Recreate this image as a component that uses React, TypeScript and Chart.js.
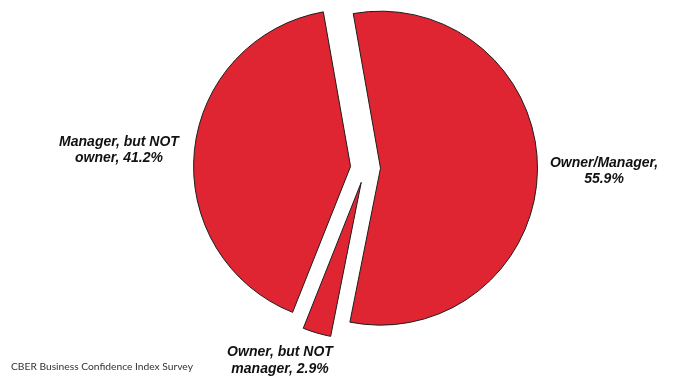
import React, { useEffect, useRef } from 'react';
import { Chart, registerables, ArcElement } from 'chart.js';

Chart.register(...registerables);

// ---- data ----
const categories: string[] = ['Owner/Manager', 'Owner, but NOT manager', 'Manager, but NOT owner'];
const values: number[] = [55.9, 2.9, 41.2];
const footerText = 'CBER Business Confidence Index Survey';

// ---- style / layout ----
const SLICE_COLOR = '#E02532';
const BORDER_COLOR = '#1c1c1c';
const EXPLODE = 15;
// label block centres relative to pie centre
const labelOffsets: [number, number][] = [
  [238.5, 3],
  [-85.5, 192.5],
  [-246.5, -18],
];
const LABEL_FONT = "italic bold 14px 'Liberation Sans', Arial, sans-serif";
const LINE_H = 16.5;

// Explode arcs by translating them without changing their radius
const baseDraw = (ArcElement.prototype as any).draw;
(ArcElement.prototype as any).draw = function (ctx: CanvasRenderingContext2D) {
  const opts = this.options;
  const off = (opts && opts.offset) || 0;
  if (!off) return baseDraw.call(this, ctx);
  const half = (this.startAngle + this.endAngle) / 2;
  ctx.save();
  ctx.translate(Math.cos(half) * off, Math.sin(half) * off);
  this.options = Object.create(opts, { offset: { value: 0 } });
  try {
    baseDraw.call(this, ctx);
  } finally {
    this.options = opts;
    ctx.restore();
  }
};

function wrap(ctx: CanvasRenderingContext2D, text: string, maxW: number): string[] {
  const words = text.split(' ');
  const lines: string[] = [];
  let cur = '';
  for (const w of words) {
    const test = cur ? cur + ' ' + w : w;
    if (cur && ctx.measureText(test).width > maxW) {
      lines.push(cur);
      cur = w;
    } else cur = test;
  }
  if (cur) lines.push(cur);
  return lines;
}

const labelPlugin = {
  id: 'outerLabels',
  afterDraw(chart: any) {
    const ctx: CanvasRenderingContext2D = chart.ctx;
    const meta = chart.getDatasetMeta(0);
    ctx.save();
    ctx.font = LABEL_FONT;
    ctx.fillStyle = '#111';
    ctx.textAlign = 'center';
    ctx.textBaseline = 'middle';
    meta.data.forEach((arc: any, i: number) => {
      const text = `${categories[i]}, ${values[i].toFixed(1)}%`;
      const lines = wrap(ctx, text, 125);
      const cx = arc.x + labelOffsets[i][0];
      const cy = arc.y + labelOffsets[i][1];
      const top = cy - ((lines.length - 1) * LINE_H) / 2;
      lines.forEach((ln, k) => ctx.fillText(ln, cx, top + k * LINE_H));
    });
    ctx.font = "10.25px Lato, 'Liberation Sans', sans-serif";
    ctx.fillStyle = '#333';
    ctx.textAlign = 'left';
    ctx.fillText(footerText, 11, 367);
    ctx.restore();
  },
};

export default function App() {
  const ref = useRef<HTMLCanvasElement>(null);
  useEffect(() => {
    document.body.style.margin = '0';
    const chart = new Chart(ref.current!, {
      type: 'pie',
      data: {
        labels: categories,
        datasets: [
          {
            data: values,
            backgroundColor: SLICE_COLOR,
            borderColor: BORDER_COLOR,
            borderWidth: 1,
            offset: EXPLODE,
          },
        ],
      },
      options: {
        responsive: false,
        animation: false,
        devicePixelRatio: 1,
        rotation: -10,
        layout: { padding: { left: 165.5, right: 108.5, top: 3, bottom: 44 } },
        plugins: { legend: { display: false }, tooltip: { enabled: false } },
      },
      plugins: [labelPlugin],
    });
    return () => chart.destroy();
  }, []);
  return (
    <div style={{ position: 'absolute', left: 0, top: 0, width: 674, height: 377, background: '#fff' }}>
      <canvas ref={ref} width={674} height={377} />
    </div>
  );
}
